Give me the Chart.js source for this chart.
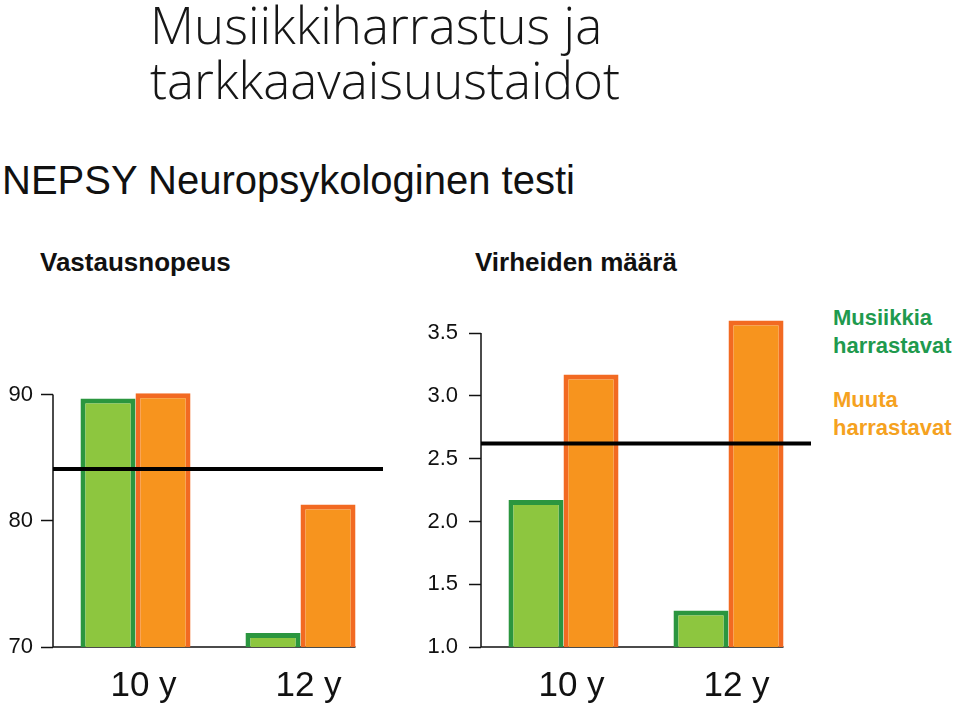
<!DOCTYPE html>
<html lang="fi">
<head>
<meta charset="UTF-8">
<title>Musiikkiharrastus ja tarkkaavaisuustaidot</title>
<script src="https://cdn.jsdelivr.net/npm/chart.js"></script>
<style>
  body { margin: 0; background: #fff; }
  #page { position: relative; width: 960px; height: 707px; overflow: hidden;
          font-family: "Liberation Sans", Arial, sans-serif; color: #111; }
  .abs { position: absolute; white-space: nowrap; }
  .title { left: 150px; top: -3px; font-family: "Open Sans", sans-serif; font-weight: 300;
           font-size: 51px; line-height: 55px; color: #161616; }
  .sub { left: 2px; top: 160px; font-size: 40px; line-height: 40px; }
  .panel { font-size: 26px; line-height: 26px; font-weight: bold; top: 249px; }
  .leg { left: 833px; font-size: 22px; line-height: 28px; font-weight: bold; }
  .box { position: absolute; top: 300px; height: 407px; }
</style>
</head>
<body>
<div id="page">
  <div class="abs title">Musiikkiharrastus ja<br>tarkkaavaisuustaidot</div>
  <div class="abs sub">NEPSY Neuropsykologinen testi</div>
  <div class="abs panel" style="left:40px">Vastausnopeus</div>
  <div class="abs panel" style="left:475px">Virheiden määrä</div>
  <div class="abs leg" style="top:304px; color:#1f9a4e">Musiikkia<br>harrastavat</div>
  <div class="abs leg" style="top:386px; color:#f5a21f">Muuta<br>harrastavat</div>

  <div class="box" style="left:0; width:400px"><canvas id="speed" width="400" height="407"></canvas></div>
  <div class="box" style="left:400px; width:430px"><canvas id="errors" width="430" height="407"></canvas></div>
</div>

<script>
// data
const ages = ['10 y', '12 y'];
const seriesNames = ['Musiikkia harrastavat', 'Muuta harrastavat'];

const speedMusic = [89.7, 71.1];
const speedOther = [90.1, 81.3];
const speedMean = 84.1;
const speedTicks = [70, 80, 90];

const errorsMusic = [2.17, 1.29];
const errorsOther = [3.17, 3.60];
const errorsMean = 2.62;
const errorsTicks = [1.0, 1.5, 2.0, 2.5, 3.0, 3.5];

const font = '"Liberation Sans", Arial, sans-serif';

// y axis line (only up to the top tick), base line and the black mean line
const refLines = {
  id: 'refLines',
  beforeDatasetsDraw(chart, args, opts) {
    const { ctx, chartArea, scales: { y } } = chart;
    const bars = chart.getDatasetMeta(chart.data.datasets.length - 1).data;
    const last = bars[bars.length - 1];
    const base = y.getPixelForValue(y.min);
    ctx.save();
    ctx.strokeStyle = '#111';
    ctx.lineWidth = 1.5;
    ctx.beginPath();
    ctx.moveTo(chartArea.left, y.getPixelForValue(opts.axisTop));
    ctx.lineTo(chartArea.left, base);
    ctx.lineTo(last.x + last.width / 2, base);
    ctx.stroke();
    ctx.restore();
  },
  afterDatasetsDraw(chart, args, opts) {
    const { ctx, chartArea, scales: { y } } = chart;
    const py = y.getPixelForValue(opts.mean);
    ctx.save();
    ctx.strokeStyle = '#000';
    ctx.lineWidth = 4;
    ctx.beginPath();
    ctx.moveTo(chartArea.left, py);
    ctx.lineTo(chartArea.right, py);
    ctx.stroke();
    ctx.restore();
  }
};

function makeChart(id, music, other, cfg) {
  return new Chart(document.getElementById(id), {
    type: 'bar',
    data: {
      labels: ages,
      datasets: [{
        label: seriesNames[0],
        data: music,
        backgroundColor: '#8dc63f',
        borderColor: '#2b963f',
        borderWidth: 5,
        borderSkipped: false
      }, {
        label: seriesNames[1],
        data: other,
        backgroundColor: '#f7941e',
        borderColor: '#f26a22',
        borderWidth: 5,
        borderSkipped: false
      }]
    },
    options: {
      responsive: false,
      animation: false,
      datasets: { bar: { categoryPercentage: 0.667, barPercentage: 1.0 } },
      layout: { padding: { top: cfg.padTop, right: cfg.padRight, left: 0, bottom: 0 } },
      scales: {
        x: {
          grid: { display: false, drawTicks: false },
          border: { display: false },
          ticks: { color: '#111', font: { family: font, size: 35 }, padding: 18, labelOffset: 8, maxRotation: 0 },
          afterFit: s => { s.height = 60; s.paddingLeft = 0; s.paddingRight = 0; }
        },
        y: {
          min: cfg.min,
          max: cfg.max,
          afterBuildTicks: s => { s.ticks = cfg.ticks.map(v => ({ value: v })); },
          afterFit: s => { s.width = cfg.axisWidth; s.paddingTop = 0; s.paddingBottom = 0; },
          border: { display: false },
          grid: { drawOnChartArea: false, tickLength: 12, tickColor: '#111', tickWidth: 1.5 },
          ticks: {
            color: '#111',
            padding: cfg.tickPad,
            font: { family: font, size: 22 },
            callback: v => cfg.decimals ? Number(v).toFixed(cfg.decimals) : v
          }
        }
      },
      plugins: {
        legend: { display: false },
        tooltip: { enabled: false },
        refLines: { mean: cfg.mean, axisTop: cfg.ticks[cfg.ticks.length - 1] }
      }
    },
    plugins: [refLines]
  });
}

makeChart('speed', speedMusic, speedOther, {
  min: 70, max: 91, ticks: speedTicks, mean: speedMean, decimals: 0,
  padTop: 82, padRight: 17, axisWidth: 53, tickPad: 8
});

makeChart('errors', errorsMusic, errorsOther, {
  min: 1.0, max: 3.7, ticks: errorsTicks, mean: errorsMean, decimals: 1,
  padTop: 8, padRight: 19, axisWidth: 81, tickPad: 11
});
</script>
</body>
</html>
